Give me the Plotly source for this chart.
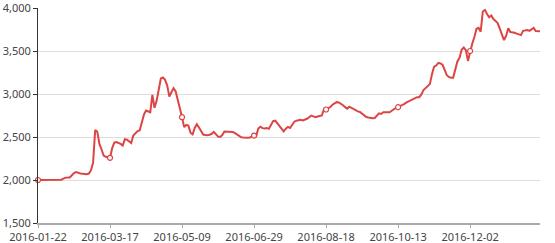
import plotly.graph_objects as go

# Tick labels shown every LABEL_STEP categories
tick_labels = ["2016-01-22", "2016-03-17", "2016-05-09", "2016-06-29",
               "2016-08-18", "2016-10-13", "2016-12-02"]
LABEL_STEP = 34

values = [
    2000, 2000, 2000, 2000, 2000, 2000, 2000, 2000, 2000, 2000,
    2000, 2003, 2015, 2027, 2028, 2030, 2055, 2080, 2091, 2082,
    2075, 2074, 2072, 2068, 2075, 2112, 2200, 2580, 2560, 2420,
    2355, 2285, 2270, 2262, 2258, 2370, 2435, 2440, 2432, 2420,
    2401, 2475, 2468, 2445, 2430, 2517, 2545, 2568, 2575, 2680,
    2760, 2808, 2795, 2788, 2990, 2840, 2920, 3060, 3180, 3192,
    3165, 3100, 2970, 3020, 3068, 3030, 2915, 2832, 2730, 2615,
    2640, 2632, 2550, 2530, 2605, 2648, 2610, 2570, 2529, 2524,
    2520, 2526, 2537, 2560, 2533, 2505, 2500, 2522, 2564, 2564,
    2564, 2562, 2557, 2545, 2526, 2505, 2496, 2494, 2491, 2491,
    2495, 2510, 2517, 2510, 2598, 2620, 2603, 2598, 2604, 2595,
    2648, 2685, 2690, 2661, 2620, 2590, 2566, 2596, 2618, 2605,
    2648, 2678, 2690, 2697, 2699, 2693, 2700, 2712, 2730, 2748,
    2740, 2731, 2738, 2744, 2750, 2822, 2820, 2835, 2848, 2875,
    2895, 2905, 2901, 2888, 2870, 2847, 2830, 2852, 2838, 2819,
    2806, 2798, 2791, 2770, 2746, 2733, 2727, 2722, 2719, 2721,
    2745, 2775, 2768, 2787, 2788, 2788, 2788, 2805, 2825, 2838,
    2847, 2858, 2870, 2886, 2903, 2915, 2928, 2942, 2953, 2963,
    2963, 2995, 3045, 3072, 3095, 3115, 3230, 3318, 3331, 3362,
    3355, 3340, 3280, 3218, 3198, 3188, 3188, 3278, 3378, 3420,
    3515, 3540, 3510, 3385, 3500, 3585, 3660, 3760, 3770, 3725,
    3960, 3978, 3930, 3893, 3912, 3872, 3850, 3825, 3760, 3680,
    3627, 3675, 3765, 3720, 3719, 3712, 3702, 3690, 3685, 3735,
    3742, 3745, 3734, 3750, 3768, 3732, 3730, 3730,
]

y_ticks = [1500, 2000, 2500, 3000, 3500, 4000]

LINE_COLOR = "#dd4444"
FONT = "Noto Sans"

x = list(range(len(values)))
tick_pos = [i * LABEL_STEP for i in range(len(tick_labels))]

fig = go.Figure()
fig.add_trace(go.Scatter(
    x=x, y=values, mode="lines",
    line=dict(color=LINE_COLOR, width=2),
    hoverinfo="skip", cliponaxis=False, showlegend=False,
))
fig.add_trace(go.Scatter(
    x=tick_pos, y=[values[p] for p in tick_pos], mode="markers",
    marker=dict(symbol="circle", size=5, color="white",
                line=dict(color=LINE_COLOR, width=1.2)),
    hoverinfo="skip", cliponaxis=False, showlegend=False,
))

fig.update_layout(
    width=555, height=243,
    margin=dict(l=38, r=15, t=8, b=20, autoexpand=False),
    paper_bgcolor="white", plot_bgcolor="white",
    font=dict(family=FONT, size=11, color="#444"),
)
fig.update_xaxes(
    automargin=False,
    range=[0, len(values) - 1],
    tickmode="array", tickvals=tick_pos, ticktext=tick_labels,
    showgrid=False, zeroline=False,
    showline=True, linecolor="#aaaaaa", linewidth=2,
    ticks="outside", ticklen=3, tickcolor="#aaaaaa", tickwidth=1,
    ticklabeloverflow="allow",
)
fig.update_yaxes(
    automargin=False,
    range=[1500, 4000],
    tickmode="array", tickvals=y_ticks,
    ticktext=[f"{v:,}" for v in y_ticks],
    showgrid=True, gridcolor="#dddddd", gridwidth=1,
    zeroline=False,
    showline=True, linecolor="#333333", linewidth=1,
    ticks="outside", ticklen=4, tickcolor="#333333", tickwidth=1,
    ticklabeloverflow="allow",
)

fig.write_html("out.html")
